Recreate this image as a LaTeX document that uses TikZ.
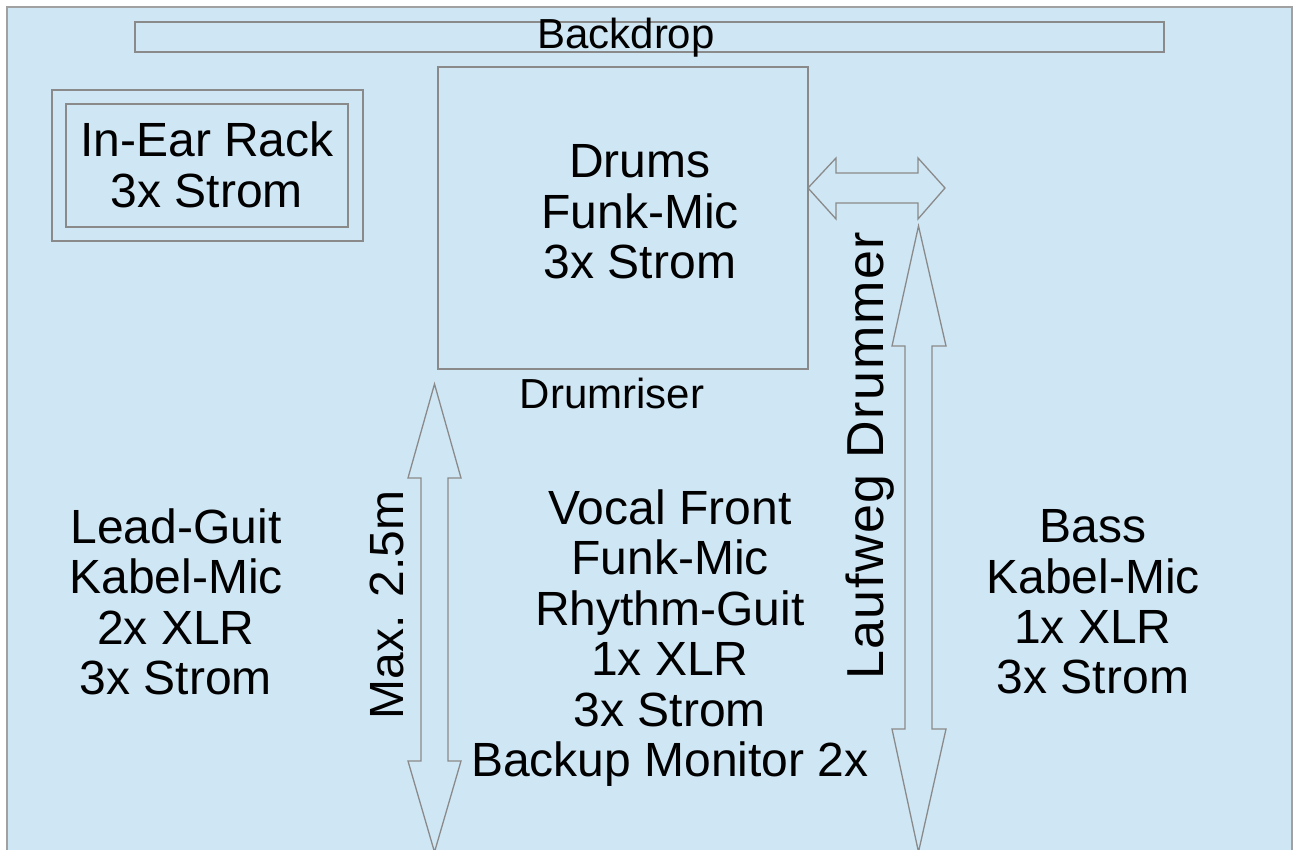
\documentclass[tikz,border=0pt]{standalone}
\usepackage{fontspec}
\setmainfont{Liberation Sans}
\definecolor{stagebg}{HTML}{CFE6F4}
\definecolor{stageline}{HTML}{8A8A8A}
\tikzset{
  big/.style={align=center,inner sep=0pt,font=\fontsize{48}{50.4}\selectfont},
  small/.style={inner sep=0pt,font=\fontsize{42}{46}\selectfont},
  outline/.style={draw=stageline,line width=1.3pt},
}
\begin{document}
\begin{tikzpicture}[x=1pt,y=-1pt]
\useasboundingbox (0,0) rectangle (1293,850);
% stage
\draw[fill=stagebg,draw=stageline!80,line width=1.5pt] (7,7) rectangle (1292,870);
% backdrop and drumriser
\draw[outline] (135,22) rectangle (1164,52);
\node[small] (backdrop) at (626,38) {Backdrop};
\draw[outline] (438,67) rectangle (808,369);
\node[big] (drums) at (640,212) {Drums\\Funk-Mic\\3x Strom};
\node[small] (riser) at (612,393) {Drumriser};
% in-ear rack
\draw[outline] (52,90) rectangle (363,241);
\draw[outline] (66,104) rectangle (348,227);
\node[big] (inear) at (207,165) {In-Ear Rack\\3x Strom};
% musicians
\node[big] (lead) at (176,602) {Lead-Guit\\Kabel-Mic\\2x XLR\\3x Strom};
\node[big] (vocal) at (670,638) {Vocal Front\\Funk-Mic\\Rhythm-Guit\\1x XLR\\3x Strom\\Backup Monitor 2x};
\node[big] (bass) at (1093,602) {Bass\\Kabel-Mic\\1x XLR\\3x Strom};
% distances
\node[big,rotate=90] (maxlabel) at (387,605) {Max. 2.5m};
\node[big,rotate=90,font=\fontsize{52}{54}\selectfont\addfontfeature{LetterSpace=3}] (laufweg) at (870,456) {Laufweg Drummer};
% arrows
\draw[outline] (808,188) -- (836,158) -- (836,173) -- (918,173) -- (918,158)
  -- (945,188) -- (918,219) -- (918,203) -- (836,203) -- (836,219) -- cycle;
\draw[outline] (434.5,384) -- (461,478) -- (448,478) -- (448,761) -- (461,761)
  -- (434.5,852) -- (408,761) -- (421,761) -- (421,478) -- (408,478) -- cycle;
\draw[outline] (918.5,226) -- (946,346) -- (932,346) -- (932,729) -- (946,729)
  -- (918.5,852) -- (892,729) -- (905,729) -- (905,346) -- (892,346) -- cycle;
\end{tikzpicture}
\end{document}
